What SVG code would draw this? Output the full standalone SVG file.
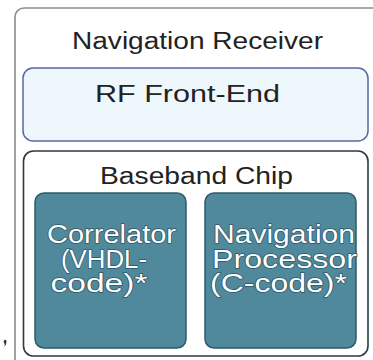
<svg xmlns="http://www.w3.org/2000/svg" width="373" height="360" viewBox="0 0 373 360">
  <style>
    .title { font-family: "Liberation Sans", Arial, sans-serif; font-size: 23px; fill: #222; text-anchor: middle; }
    .block { font-family: "Liberation Sans", Arial, sans-serif; font-size: 25px; fill: #ffffff; text-anchor: middle;
             stroke: #2b5566; stroke-width: 1.4; paint-order: stroke; stroke-linejoin: round; }
    .unit { fill: #50899c; stroke: #2f5a6a; stroke-width: 1.5; }
  </style>

  <rect width="373" height="360" fill="#ffffff"/>

  <!-- receiver enclosure (runs off the right and bottom edges) -->
  <g id="navigation-receiver">
    <rect x="15" y="8" width="380" height="370" rx="9" fill="#ffffff" stroke="#8c8c8c" stroke-width="1.6"/>
    <text class="title" x="197.5" y="49" textLength="251" lengthAdjust="spacingAndGlyphs">Navigation Receiver</text>
  </g>

  <g id="rf-front-end">
    <rect x="23" y="68" width="345" height="73" rx="10" fill="#eef7fb" stroke="#5b66a6" stroke-width="1.5"/>
    <text class="title" x="187.5" y="102" textLength="185" lengthAdjust="spacingAndGlyphs">RF Front-End</text>
  </g>

  <g id="baseband-chip">
    <rect x="23.5" y="151" width="344.5" height="205" rx="10" fill="#ffffff" stroke="#2c3a44" stroke-width="1.6"/>
    <text class="title" x="196.5" y="184" textLength="193" lengthAdjust="spacingAndGlyphs">Baseband Chip</text>
  </g>

  <g id="correlator">
    <rect class="unit" x="35" y="193" width="151" height="155" rx="9"/>
    <text class="block" x="111.5" y="243" textLength="129" lengthAdjust="spacingAndGlyphs">Correlator</text>
    <text class="block" x="104" y="268" textLength="86" lengthAdjust="spacingAndGlyphs">(VHDL-</text>
    <text class="block" x="99" y="292" textLength="97" lengthAdjust="spacingAndGlyphs">code)*</text>
  </g>

  <g id="navigation-processor">
    <rect class="unit" x="205" y="193" width="151" height="155" rx="9"/>
    <text class="block" x="284" y="243" textLength="142" lengthAdjust="spacingAndGlyphs">Navigation</text>
    <text class="block" x="284.5" y="268" textLength="145" lengthAdjust="spacingAndGlyphs">Processor</text>
    <text class="block" x="278.5" y="292" textLength="137" lengthAdjust="spacingAndGlyphs">(C-code)*</text>
  </g>

  <!-- small ink speck at the left margin -->
  <path d="M4.5 340 q2 -1 2 2 q0 3 -2.5 4.5 q1.5 -2.5 0 -3.5 q-1 -2 0.5 -3z" fill="#333"/>

  <g id="connectors"/>
</svg>
